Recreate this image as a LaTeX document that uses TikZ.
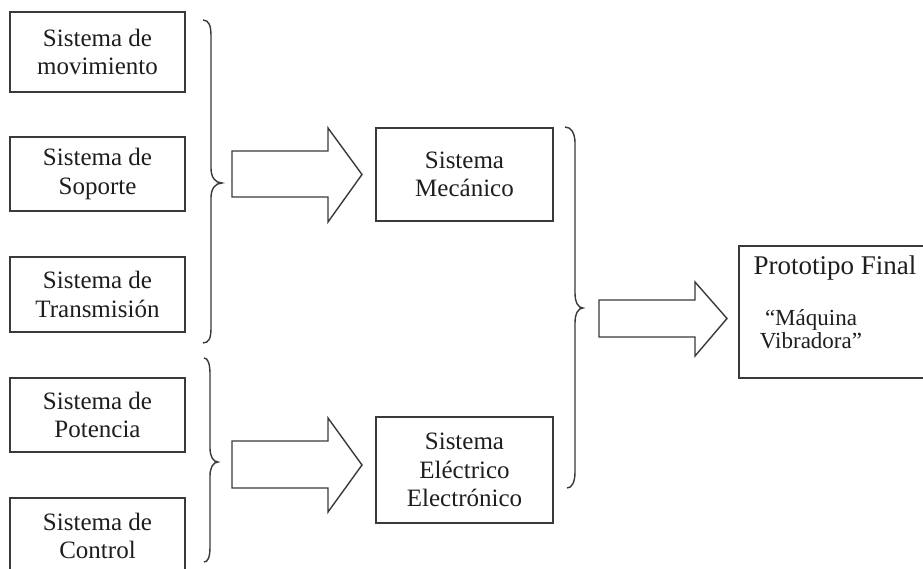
\documentclass[tikz,border=0pt]{standalone}
\usepackage{fontspec}
\setmainfont{Liberation Serif}
\definecolor{ln}{HTML}{3A3A3A}
\definecolor{tx}{HTML}{1E1E1E}
\begin{document}
\begin{tikzpicture}[x=1pt,y=-1pt,
  box/.style={draw=ln,line width=1.4pt,rectangle,inner sep=0pt,align=center,text=tx,
    font=\fontsize{25}{28.5}\selectfont},
  brc/.style={draw=ln,line width=1.4pt},
  barrow/.style={draw=ln,line width=1.4pt,line join=miter,fill=white}]
\useasboundingbox (0,0) rectangle (923,569);
\fill[white] (0,0) rectangle (923,569);
% left boxes
\node[box,minimum width=175pt,minimum height=80pt] (m1) at (97.5,52) {Sistema de\\movimiento};
\node[box,minimum width=175pt,minimum height=74pt] (m2) at (97.5,174) {Sistema de\\Soporte};
\node[box,minimum width=175pt,minimum height=75pt] (m3) at (97.5,294.5) {Sistema de\\Transmisión};
\node[box,minimum width=175pt,minimum height=74pt] (m4) at (97.5,415) {Sistema de\\Potencia};
\node[box,minimum width=175pt,minimum height=76pt] (m5) at (97.5,536) {Sistema de\\Control};
% middle boxes
\node[box,minimum width=177pt,minimum height=93pt] (mec) at (464.5,174.5) {Sistema\\Mecánico};
\node[box,minimum width=177pt,minimum height=106pt] (ele) at (464.5,470) {Sistema\\Eléctrico\\Electrónico};
% final box
\node[box,minimum width=191pt,minimum height=132pt] (fin) at (834.5,312) {};
\node[text=tx,font=\fontsize{27}{30}\selectfont,inner sep=0pt] (fint) at (835,268) {Prototipo Final};
\node[text=tx,font=\fontsize{23}{22.5}\selectfont,inner sep=0pt,align=center] (finq) at (811,329) {“Máquina\\Vibradora”};
% braces
\draw[brc] (203,20) .. controls (209,20) and (211,26) .. (211,36) -- (211,168)
  .. controls (211,177) and (215,183) .. (222,183)
  .. controls (215,183) and (211,189) .. (211,198) -- (211,328)
  .. controls (211,338) and (209,343) .. (203,343);
\draw[brc] (204,358) .. controls (208,358) and (210,364) .. (210,374) -- (210,448)
  .. controls (210,456) and (213,462) .. (218,462)
  .. controls (213,462) and (210,468) .. (210,476) -- (210,547)
  .. controls (210,557) and (208,562) .. (204,562);
\draw[brc] (565,127) .. controls (571,127) and (575,133) .. (575,143) -- (575,293)
  .. controls (575,302) and (578,308) .. (583,308)
  .. controls (578,308) and (575,314) .. (575,323) -- (575,472)
  .. controls (575,482) and (572,488) .. (567,488);
% block arrows
\draw[barrow] (232,151) -- (328,151) -- (328,128) -- (362,174.5) -- (328,222) -- (328,197) -- (232,197) -- cycle;
\draw[barrow] (232,441) -- (328,441) -- (328,418) -- (362,465) -- (328,512) -- (328,488) -- (232,488) -- cycle;
\draw[barrow] (599,300) -- (695,300) -- (695,282) -- (727,318.5) -- (695,356) -- (695,337) -- (599,337) -- cycle;
\end{tikzpicture}
\end{document}
